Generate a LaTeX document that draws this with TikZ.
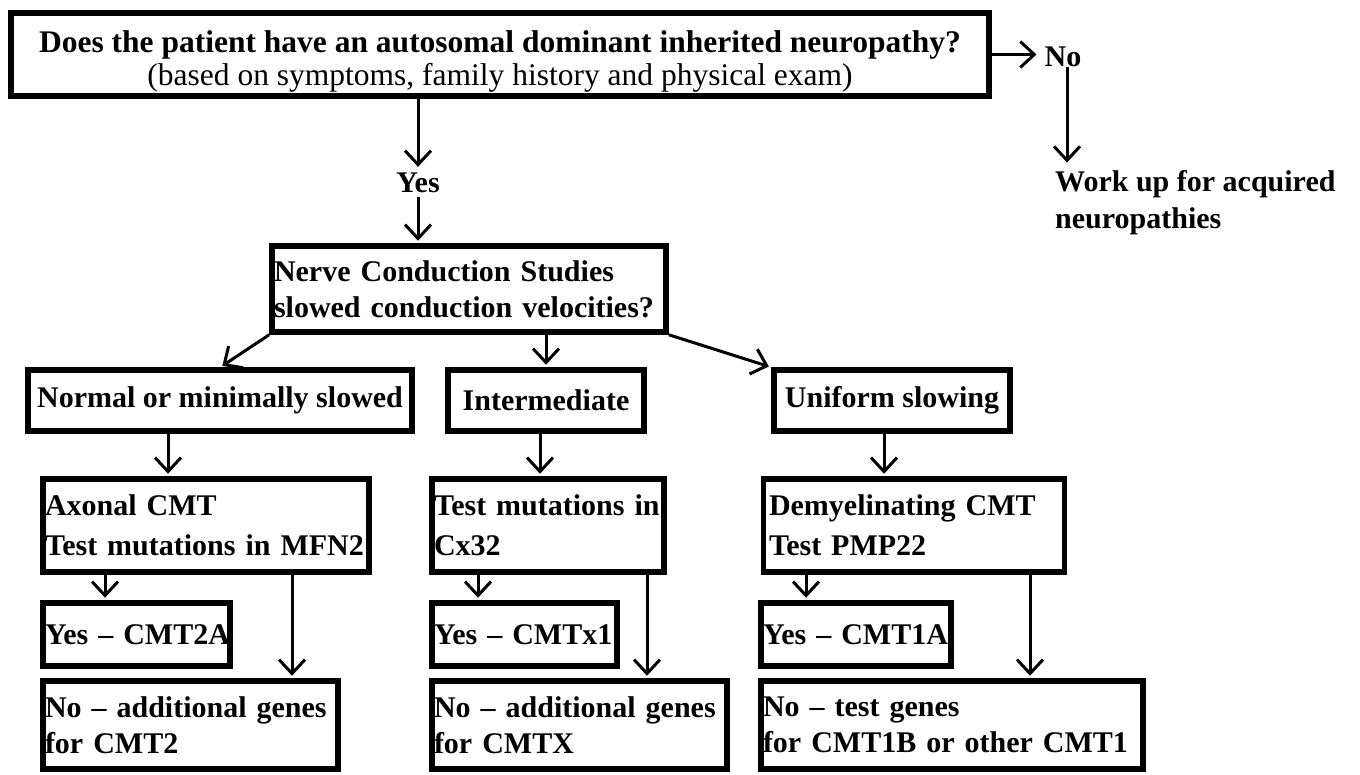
\documentclass[tikz,border=0pt]{standalone}
\usepackage{fontspec}
\setmainfont{Liberation Serif}
\usetikzlibrary{arrows.meta,calc}
\begin{document}
\begin{tikzpicture}[x=1pt,y=-1pt,
  box/.style={draw,line width=5.5pt,rectangle,inner xsep=2pt,inner ysep=0pt,align=left,
    font=\fontsize{30}{38}\selectfont\bfseries},
  cbox/.style={box,align=center},
  arr/.style={line width=3pt,-{Straight Barb[length=14pt,width=26pt]},shorten >=2.5pt},
  lbl/.style={inner sep=0pt,align=left,font=\fontsize{30}{37}\selectfont\bfseries}]
\useasboundingbox (0,0) rectangle (1360,774);

% top question
\node[cbox,minimum width=978pt,minimum height=83pt,font=\fontsize{31.5}{33}\selectfont\bfseries] (top) at (500,54.5)
  {\rule{0pt}{35pt}Does the patient have an autosomal dominant inherited neuropathy?\\\mdseries (based on symptoms, family history and physical exam)};
\node[lbl] (no) at (1063,57) {No};
\node[lbl,anchor=west] (work) at (1055,203) {Work up for acquired\\neuropathies};
\node[lbl] (yes) at (418,183) {Yes};

% nerve conduction
\node[box,minimum width=394pt,minimum height=86pt,text width=390pt,font=\fontsize{30}{36}\selectfont\bfseries] (ncs) at (469,289)
  {\mbox{Nerve Conduction Studies}\\\mbox{slowed conduction velocities?}};

% categories
\node[cbox,minimum width=384pt,minimum height=61pt] (normal) at (220,400.5) {Normal or minimally slowed};
\node[cbox,minimum width=196pt,minimum height=61pt] (inter) at (546,400.5) {Intermediate};
\node[cbox,minimum width=236pt,minimum height=61pt] (uniform) at (892,400.5) {Uniform slowing};

% tests
\node[box,minimum width=326pt,minimum height=93pt,text width=322pt,font=\fontsize{30}{40}\selectfont\bfseries] (axonal) at (206,525.5)
  {\mbox{Axonal CMT}\\\mbox{Test mutations in MFN2}};
\node[box,minimum width=232pt,minimum height=93pt,text width=228pt,font=\fontsize{30}{40}\selectfont\bfseries] (testmut) at (548,525.5)
  {\mbox{Test mutations in}\\\mbox{Cx32}};
\node[box,minimum width=301pt,minimum height=93pt,text width=290pt,font=\fontsize{30}{40}\selectfont\bfseries] (demyel) at (914,525.5)
  {\mbox{Demyelinating CMT}\\\mbox{Test PMP22}};

% yes results
\node[box,minimum width=187pt,minimum height=63pt,text width=183pt] (yesA) at (136.5,634.5) {\mbox{Yes – CMT2A}};
\node[box,minimum width=185pt,minimum height=63pt,text width=181pt] (yesX) at (524.5,634.5) {\mbox{Yes – CMTx1}};
\node[box,minimum width=190pt,minimum height=63pt,text width=186pt] (yes1A) at (856,634.5) {\mbox{Yes – CMT1A}};

% no results
\node[box,minimum width=295pt,minimum height=88pt,text width=291pt,font=\fontsize{30}{36}\selectfont\bfseries] (noA) at (190.5,725)
  {\mbox{No – additional genes}\\\mbox{for CMT2}};
\node[box,minimum width=295pt,minimum height=88pt,text width=291pt,font=\fontsize{30}{36}\selectfont\bfseries] (noX) at (579.5,725)
  {\mbox{No – additional genes}\\\mbox{for CMTX}};
\node[box,minimum width=382pt,minimum height=88pt,text width=378pt,font=\fontsize{30}{36}\selectfont\bfseries] (no1) at (952,725)
  {\mbox{No – test genes}\\\mbox{for CMT1B or other CMT1}};

% helper x positions
\coordinate (c1) at (168,0);
\coordinate (c2) at (540,0);
\coordinate (c3) at (884,0);
\coordinate (s1) at (105,0);
\coordinate (l1) at (292,0);
\coordinate (s2) at (478,0);
\coordinate (l2) at (647,0);
\coordinate (s3) at (806,0);
\coordinate (l3) at (1030,0);
\coordinate (nx) at (1067,0);

% connectors
\draw[arr,shorten >=8pt] (top.east) -- (no.west |- top.east);
\draw[arr,shorten >=8pt] (no.south -| nx) -- (work.north -| nx);
\draw[arr,shorten >=6pt] (top.south -| yes) -- (yes.north);
\draw[arr,shorten <=4pt] (yes.south) -- (yes.south |- ncs.north);
\draw[arr] (ncs.south west) -- ($(normal.north west)+(195,0)$);
\draw[arr] (inter.north |- ncs.south) -- (inter.north);
\draw[arr] (ncs.south east) -- (uniform.north west);
\draw[arr] (normal.south -| c1) -- (axonal.north -| c1);
\draw[arr] (inter.south -| c2) -- (testmut.north -| c2);
\draw[arr] (uniform.south -| c3) -- (demyel.north -| c3);
\draw[arr] (axonal.south -| s1) -- (yesA.north -| s1);
\draw[arr] (axonal.south -| l1) -- (noA.north -| l1);
\draw[arr] (testmut.south -| s2) -- (yesX.north -| s2);
\draw[arr] (testmut.south -| l2) -- (noX.north -| l2);
\draw[arr] (demyel.south -| s3) -- (yes1A.north -| s3);
\draw[arr] (demyel.south -| l3) -- (no1.north -| l3);
\end{tikzpicture}
\end{document}
